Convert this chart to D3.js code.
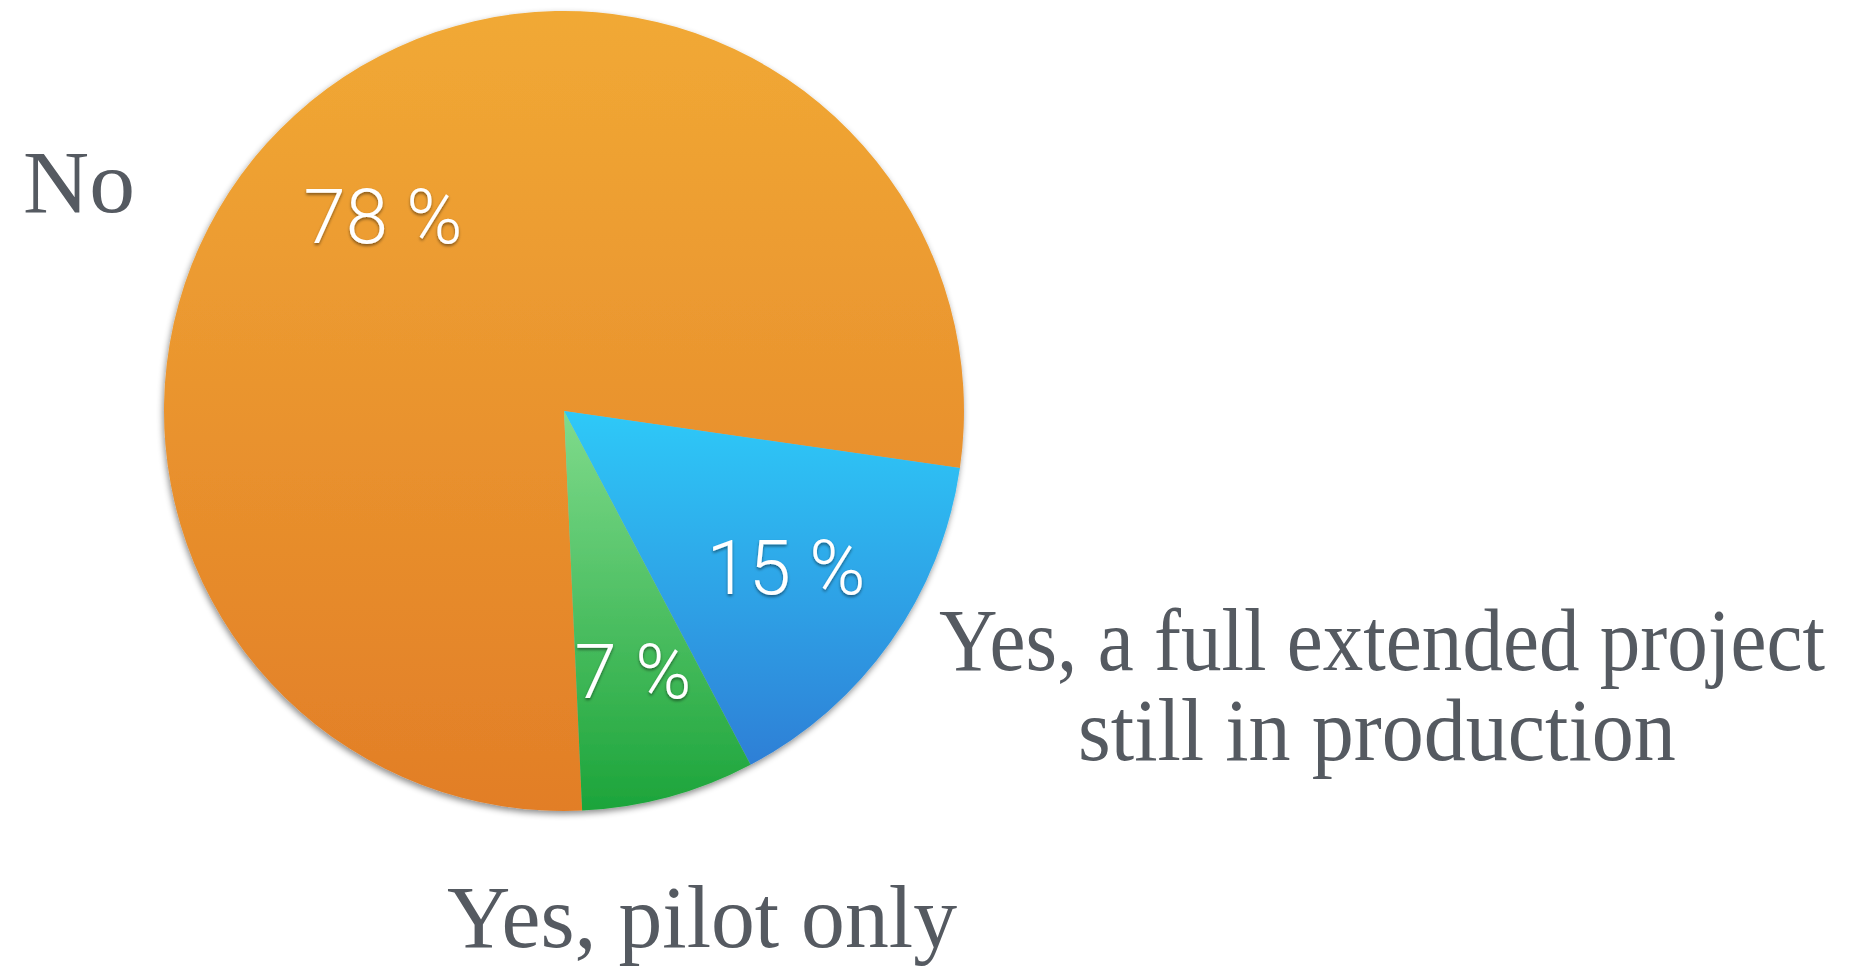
<!DOCTYPE html>
<html>
<head>
<meta charset="utf-8">
<script src="https://cdn.jsdelivr.net/npm/d3@7"></script>
<style>
  html, body { margin: 0; padding: 0; background: #fff; }
  svg { display: block; }
  .pct { font-family: "Helvetica Neue", Roboto, "Open Sans", sans-serif; font-weight: 300; fill: #fff; }
  .cat { font-family: "Liberation Serif", "DejaVu Serif", serif; fill: #555a61; }
</style>
</head>
<body>
<svg id="chart"></svg>
<script>
const categories = ['No', 'Yes, a full extended project still in production', 'Yes, pilot only'];
const values = [78, 15, 7];
const pctLabels = ['78 %', '15 %', '7 %'];
const gradTop = ['#f1a935', '#2fc9f8', '#80db8c'];
const gradBottom = ['#e27e27', '#2f7fd6', '#1ca43a'];

const W = 1862;
const H = 970;
const cx = 564;
const cy = 411;
const radius = 400;
const deg = Math.PI / 180;

const svg = d3.select('#chart').attr('width', W).attr('height', H);
const defs = svg.append('defs');

const shadow = defs.append('filter').attr('id', 'pie-shadow')
  .attr('x', '-10%').attr('y', '-10%').attr('width', '120%').attr('height', '120%');
shadow.append('feDropShadow')
  .attr('dx', -1).attr('dy', 3).attr('stdDeviation', 3)
  .attr('flood-color', '#000').attr('flood-opacity', 0.45);

const textShadow = defs.append('filter').attr('id', 'text-shadow')
  .attr('x', '-20%').attr('y', '-20%').attr('width', '140%').attr('height', '150%');
textShadow.append('feDropShadow')
  .attr('dx', 0).attr('dy', 2).attr('stdDeviation', 1.5)
  .attr('flood-color', '#000').attr('flood-opacity', 0.45);

categories.forEach((c, i) => {
  const g = defs.append('linearGradient').attr('id', `grad-${i}`)
    .attr('x1', 0).attr('y1', 0).attr('x2', 0).attr('y2', 1);
  g.append('stop').attr('offset', '0%').attr('stop-color', gradTop[i]);
  g.append('stop').attr('offset', '100%').attr('stop-color', gradBottom[i]);
});

const pie = d3.pie().sort(null)
  .startAngle(177.4 * deg)
  .endAngle(177.4 * deg + 2 * Math.PI);
const arcs = pie(values);
const arc = d3.arc().innerRadius(0).outerRadius(radius);

const pieG = svg.append('g')
  .attr('transform', `translate(${cx}, ${cy})`)
  .attr('filter', 'url(#pie-shadow)');

pieG.selectAll('path')
  .data(arcs)
  .enter()
  .append('path')
  .attr('d', arc)
  .attr('fill', (d, i) => `url(#grad-${i})`);

// percentage labels inside slices
const pctPos = [[383, 243], [786, 594], [633, 698]];
svg.append('g').selectAll('text')
  .data(pctLabels)
  .enter()
  .append('text')
  .attr('class', 'pct')
  .attr('filter', 'url(#text-shadow)')
  .attr('x', (d, i) => pctPos[i][0])
  .attr('y', (d, i) => pctPos[i][1])
  .attr('text-anchor', 'middle')
  .style('font-size', '76px')
  .text((d) => d);

// category labels, squeezed horizontally to the width of the reference serif
const cats = svg.append('g').attr('class', 'cat').style('font-size', '88px');

const fitLabel = (x, y, anchor, width, str) => {
  const g = cats.append('g').attr('transform', `translate(${x}, ${y})`);
  const t = g.append('text').attr('text-anchor', anchor).text(str);
  const sx = width / t.node().getComputedTextLength();
  t.attr('transform', `scale(${sx}, 1)`);
  return t;
};

fitLabel(23, 212, 'start', 112, categories[0]);
fitLabel(1382, 670, 'middle', 886, 'Yes, a full extended project');
fitLabel(1377, 760, 'middle', 598, 'still in production');
fitLabel(702, 947, 'middle', 510, categories[2]);
</script>
</body>
</html>
